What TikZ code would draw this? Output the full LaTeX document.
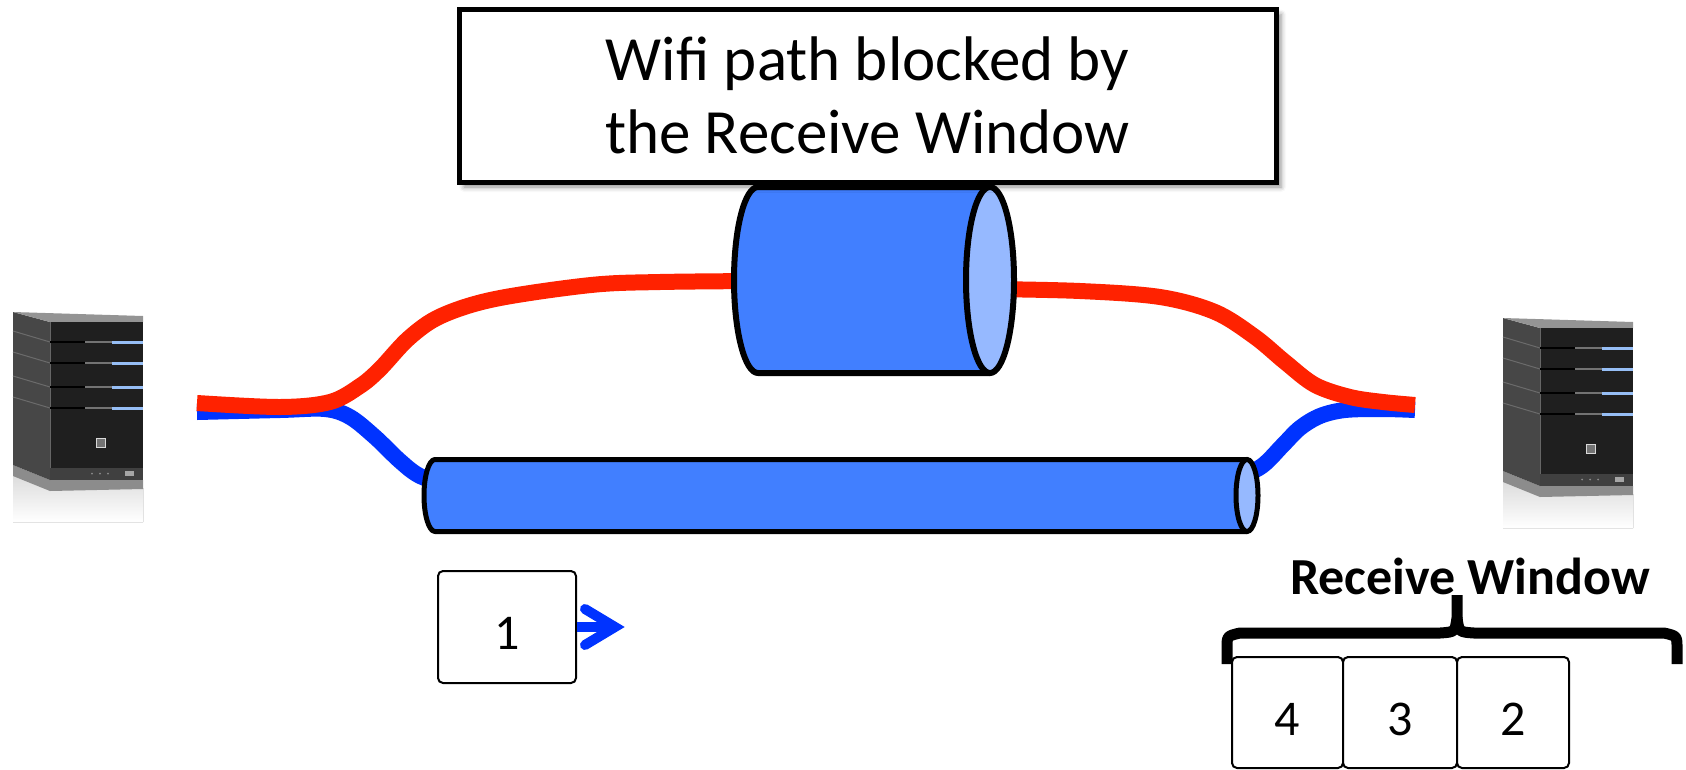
\documentclass[tikz,border=0pt]{standalone}
\usepackage{fontspec}
\setmainfont{Carlito}
\usetikzlibrary{calc,shadows.blur}

\definecolor{pipeBody}{RGB}{65,127,255}
\definecolor{pipeEnd}{RGB}{150,185,255}
\definecolor{flowRed}{RGB}{255,34,0}
\definecolor{flowBlue}{RGB}{0,51,255}
\definecolor{ledBlue}{RGB}{150,190,245}

\tikzset{
  % stylised tower server; origin is the top-left corner of the front panel
  server/.pic={
    \fill[top color=black!14, bottom color=white] (-37,152) -- (0,166) -- (93,166) -- (93,200) -- (-37,200) -- cycle;
    \fill[black!45] (-37,143) -- (0,158) -- (93,158) -- (93,167) -- (0,169) -- (-37,154) -- cycle;
    \fill[black!72] (-37,-10) -- (0,0) -- (0,158) -- (-37,143) -- cycle;
    \foreach \yy in {20,41,65,86}
      \draw[black!58, line width=1pt] (-37,\yy-11) -- (0,\yy);
    \fill[black!42] (-37,-10) -- (93,-6) -- (93,0) -- (0,0) -- cycle;
    \fill[black!88] (0,0) rectangle (93,158);
    \draw[black!60, line width=0.8pt] (0,0) -- (0,158);
    \foreach \yy in {20,41,65,86}{
      \draw[black, line width=2pt] (0,\yy) -- (93,\yy);
      \draw[black!55, line width=1.5pt] (35,\yy) -- (62,\yy);
      \draw[ledBlue, line width=3pt] (62,\yy) -- (93,\yy);
    }
    \draw[black!15, fill=black!55, line width=0.8pt] (46,116) rectangle (55,125);
    \fill[black!75] (0,146) rectangle (93,158);
    \fill[black!35] (75,149) rectangle (84,154);
    \foreach \xx in {42,50,58} \fill[black!45] (\xx,151.5) circle (1pt);
  },
  flow/.style={line width=16pt, line cap=butt},
  pipe/.style={draw=black, line width=6pt, fill=pipeBody, line join=round},
  pipeface/.style={draw=black, line width=6pt, fill=pipeEnd},
  titlebox/.style={draw=black, line width=5pt, fill=white, align=center, inner sep=0pt,
    font=\fontsize{63}{73}\selectfont,
    blur shadow={shadow xshift=5pt, shadow yshift=-5pt, shadow blur radius=5pt, shadow opacity=45}},
  packet/.style={draw=black, line width=2pt, rounded corners=5pt, fill=white, inner sep=0pt,
    font=\fontsize{50}{60}\selectfont, text height=45pt, text depth=0pt},
  bracestroke/.style={line width=11pt, line cap=butt, line join=round},
}

\begin{document}
\begin{tikzpicture}[x=1pt, y=-1pt]
\useasboundingbox (0,0) rectangle (1686,769);

% servers at both ends
\pic at (50,322) {server};
\pic at (1540,328) {server};

% free ends of the two flows
\coordinate (redStartL) at (197,403);
\coordinate (blueStartL) at (197,412);
\coordinate (redEndR) at (1415,405);
\coordinate (blueEndR) at (1415,410);

% blue flow through the lower pipe
\draw[flow, flowBlue] plot[smooth, tension=0.55] coordinates {
  (blueStartL) (280,410) (325,409) (350,417) (375,437) (400,461) (420,476) (450,486)};
\draw[flow, flowBlue] plot[smooth, tension=0.55] coordinates {
  (1235,480) (1262,466) (1283,445) (1300,428) (1320,416) (1345,410) (1383,409) (blueEndR)};

% red flow through the upper pipe
\draw[flow, flowRed] plot[smooth, tension=0.55] coordinates {
  (redStartL) (280,407) (330,402) (360,386) (380,369) (409,338) (441,316) (495,299) (591,285) (660,282) (760,281)};
\draw[flow, flowRed] plot[smooth, tension=0.55] coordinates {
  (990,289) (1080,291) (1160,297) (1215,312) (1255,337) (1285,362) (1315,385) (1350,397) (1383,402) (redEndR)};

% lower pipe
\path[pipe, line width=5pt] (1247,459.5) -- (435,459.5)
  arc[start angle=90, end angle=270, x radius=11pt, y radius=36pt] -- (1247,531.5) -- cycle;
\draw[pipeface, line width=5pt] (1247,495.5) ellipse [x radius=11pt, y radius=36pt];

% upper pipe
\path[pipe] (990,187) -- (758,187)
  arc[start angle=90, end angle=270, x radius=24pt, y radius=93pt] -- (990,373) -- cycle;
\draw[pipeface] (990,280) ellipse [x radius=24pt, y radius=93pt];

% caption box
\node[titlebox, minimum width=817pt, minimum height=172.5pt] (title) at (867.5,95.75)
  {Wifi path blocked by\\the Receive Window};

% packet in flight and its arrow
\node[packet, minimum width=138pt, minimum height=112pt] (p1) at (507,627) {1};
\coordinate (tipA) at ($(p1.east)+(38,0)$);
\draw[flowBlue, line width=10pt] (p1.east) -- ($(p1.east)+(30,0)$);
\draw[flowBlue, line width=10pt, line cap=round, line join=miter]
  ($(p1.east)+(8,-18)$) -- (tipA) -- ($(p1.east)+(8,18)$);

% receive window
\node[packet, minimum width=111pt, minimum height=111pt] (w4) at (1287.5,712.5) {4};
\node[packet, minimum width=114pt, minimum height=111pt] (w3) at (1400,712.5) {3};
\node[packet, minimum width=112pt, minimum height=111pt] (w2) at (1513,712.5) {2};

\draw[bracestroke] (1227,664) -- (1227,648) .. controls (1227,636) .. (1240,633) -- (1440,633)
  .. controls (1455,632) .. (1457,618) -- (1457,595);
\draw[bracestroke] (1457,618) .. controls (1459,632) .. (1474,633) -- (1664,633)
  .. controls (1677,636) .. (1677,648) -- (1677,664);
\node[anchor=base, font=\fontsize{52}{60}\selectfont\bfseries] (rw) at (1470,594) {Receive Window};

\end{tikzpicture}
\end{document}
